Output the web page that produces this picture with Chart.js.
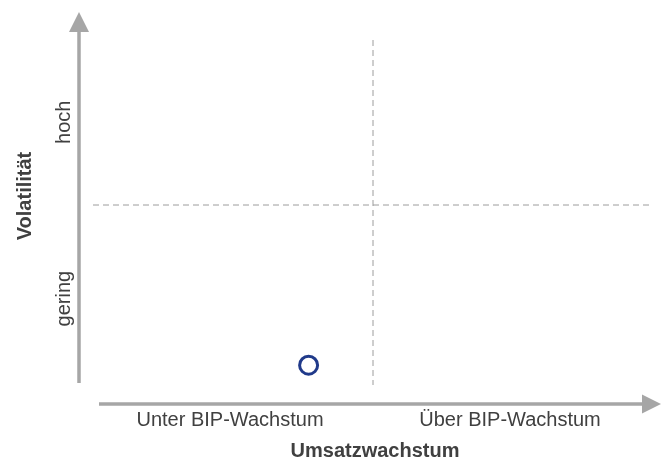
<!DOCTYPE html>
<html>
<head>
<meta charset="utf-8">
<script src="https://cdn.jsdelivr.net/npm/chart.js@4.4.1/dist/chart.umd.min.js"></script>
<style>
  html, body { margin: 0; padding: 0; background: #fff; }
  #wrap { width: 669px; height: 461px; position: relative; }
</style>
</head>
<body>
<div id="wrap"><canvas id="matrix"></canvas></div>
<script>
// matrix values (0..10 on both axes, split at the middle)
const xLabels = ['Unter BIP-Wachstum', 'Über BIP-Wachstum'];
const xLabelPos = [2.5, 7.5];
const yLabels = ['gering', 'hoch'];
const yLabelPos = [2.4, 7.3];
const splitAt = 5;
const points = [{ x: 3.85, y: 0.55 }];
const xTitle = 'Umsatzwachstum';
const yTitle = 'Volatilität';

const axisGrey = '#a6a6a6';
const dashGrey = '#9c9c9c';
const textGrey = '#404040';
const fontFam = '"Liberation Sans", Arial, sans-serif';

// axes with arrows, dashed split lines and all labels
const matrixPlugin = {
    id: 'matrix',
    beforeDatasetsDraw(chart) {
        const { ctx, chartArea: a, scales: { x, y } } = chart;
        const mx = x.getPixelForValue(splitAt);
        const my = y.getPixelForValue(splitAt);

        ctx.save();
        ctx.strokeStyle = dashGrey;
        ctx.lineWidth = 1;
        ctx.setLineDash([6, 4]);
        ctx.beginPath();
        ctx.moveTo(a.left, my); ctx.lineTo(a.right - 3, my);
        ctx.moveTo(mx, a.top + 15); ctx.lineTo(mx, a.bottom);
        ctx.stroke();
        ctx.setLineDash([]);

        // y axis
        const ax = a.left - 14;
        ctx.strokeStyle = axisGrey;
        ctx.lineWidth = 3.5;
        ctx.beginPath();
        ctx.moveTo(ax, a.bottom - 2); ctx.lineTo(ax, 30);
        ctx.stroke();
        ctx.fillStyle = axisGrey;
        ctx.beginPath();
        ctx.moveTo(ax, 12); ctx.lineTo(ax - 10, 32); ctx.lineTo(ax + 10, 32);
        ctx.closePath(); ctx.fill();

        // x axis
        const ay = a.bottom + 19;
        ctx.beginPath();
        ctx.moveTo(a.left + 6, ay); ctx.lineTo(644, ay);
        ctx.stroke();
        ctx.beginPath();
        ctx.moveTo(661, ay); ctx.lineTo(642, ay - 9.5); ctx.lineTo(642, ay + 9.5);
        ctx.closePath(); ctx.fill();

        ctx.fillStyle = textGrey;
        ctx.textAlign = 'center';
        ctx.textBaseline = 'middle';

        ctx.font = '20px ' + fontFam;
        xLabels.forEach((l, i) => {
            ctx.fillText(l, x.getPixelForValue(xLabelPos[i]) - 3, ay + 16);
        });
        yLabels.forEach((l, i) => {
            ctx.save();
            ctx.translate(ax - 15, y.getPixelForValue(yLabelPos[i]));
            ctx.rotate(-Math.PI / 2);
            ctx.fillText(l, 0, 0);
            ctx.restore();
        });

        ctx.font = 'bold 20px ' + fontFam;
        ctx.fillText(xTitle, (a.left + a.right) / 2 + 2, 451);

        ctx.save();
        ctx.translate(25, 196);
        ctx.rotate(-Math.PI / 2);
        ctx.fillText(yTitle, 0, 0);
        ctx.restore();
        ctx.restore();
    }
};

new Chart(document.getElementById('matrix'), {
    type: 'scatter',
    data: {
        datasets: [{
            data: points,
            pointRadius: 9,
            pointHoverRadius: 9,
            borderWidth: 3,
            borderColor: '#203a8a',
            backgroundColor: '#ffffff'
        }]
    },
    options: {
        responsive: true,
        maintainAspectRatio: false,
        animation: false,
        layout: { padding: { left: 93, right: 16, top: 25, bottom: 76 } },
        plugins: { legend: { display: false }, tooltip: { enabled: false } },
        scales: {
            x: { display: false, min: 0, max: 10 },
            y: { display: false, min: 0, max: 10 }
        }
    },
    plugins: [matrixPlugin]
});
</script>
</body>
</html>
